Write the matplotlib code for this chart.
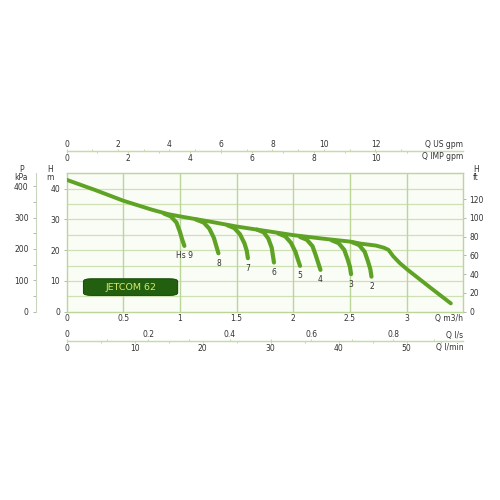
import numpy as np
import matplotlib
matplotlib.use('Agg')
import matplotlib.pyplot as plt
from matplotlib.patches import FancyBboxPatch

# main curve, Q in m3/h, H in m
q_main = [0, 0.25, 0.5, 0.75, 0.9, 1.0, 1.25, 1.5, 1.75, 2.0, 2.25, 2.5, 2.6, 2.73,
          2.8, 2.84, 2.88, 2.94, 3.01, 3.2, 3.39]
h_main = [42.9, 39.6, 36.1, 33.2, 31.7, 31.0, 29.4, 27.7, 26.3, 24.9, 23.8, 22.8, 22.1, 21.5,
          20.8, 20.1, 18.1, 15.8, 13.6, 8.1, 2.7]

# suction lift branches (Hs = 9 ... 2 m)
branch_labels = ['Hs 9', '8', '7', '6', '5', '4', '3', '2']
branch_q = [
    [0.86, 0.92, 0.97, 1.00, 1.02, 1.04],
    [1.14, 1.21, 1.26, 1.30, 1.32, 1.34],
    [1.42, 1.48, 1.53, 1.57, 1.59, 1.60],
    [1.68, 1.74, 1.78, 1.81, 1.82, 1.83],
    [1.87, 1.93, 1.98, 2.02, 2.04, 2.06],
    [2.06, 2.12, 2.17, 2.20, 2.22, 2.24],
    [2.34, 2.40, 2.45, 2.48, 2.50, 2.51],
    [2.52, 2.58, 2.63, 2.66, 2.68, 2.69],
]
branch_h = [
    [31.9, 31.0, 29.0, 26.0, 23.5, 21.4],
    [30.0, 29.0, 27.0, 24.0, 21.5, 19.0],
    [28.1, 27.2, 25.2, 22.2, 19.8, 17.4],
    [26.7, 25.8, 23.8, 20.8, 18.4, 16.0],
    [25.4, 24.5, 22.4, 19.4, 17.1, 14.9],
    [24.3, 23.4, 21.3, 18.2, 15.9, 13.6],
    [23.2, 22.3, 20.1, 17.0, 14.6, 12.2],
    [22.6, 21.7, 19.5, 16.3, 13.8, 11.4],
]

# ticks for the scales
q_ticks = [0, 0.5, 1, 1.5, 2, 2.5, 3]
h_ticks = [0, 10, 20, 30, 40]
kpa_ticks = [0, 100, 200, 300, 400]
ft_ticks = [0, 20, 40, 60, 80, 100, 120]
usgpm_ticks = [0, 2, 4, 6, 8, 10, 12]
impgpm_ticks = [0, 2, 4, 6, 8, 10]
ls_ticks = [0, 0.2, 0.4, 0.6, 0.8]
lmin_ticks = [0, 10, 20, 30, 40, 50]

curve_col = '#5fa325'
grid_col = '#cfe1b4'
vgrid_col = '#bcd69a'
txt_col = '#333333'
fs = 5.5

fig = plt.figure(figsize=(5, 5), dpi=100)
ax = fig.add_axes([0.133, 0.3766, 0.7936, 0.2768])
ax.set_facecolor('#fafcf6')
ax.set_xlim(0, 3.5)
ax.set_ylim(0, 45)

for y in np.arange(5, 45, 5):
    ax.axhline(y, color=grid_col, lw=0.9, zorder=1)
for x in q_ticks[1:]:
    ax.axvline(x, color=vgrid_col, lw=1.0, zorder=1)
for s in ax.spines.values():
    s.set_color(vgrid_col)
    s.set_linewidth(1.0)

ax.plot(q_main, h_main, color=curve_col, lw=2.8, solid_capstyle='round',
        solid_joinstyle='round', zorder=3)
for lab, qq, hh in zip(branch_labels, branch_q, branch_h):
    ax.plot(qq, hh, color=curve_col, lw=3.0, solid_capstyle='round',
            solid_joinstyle='round', zorder=3)
    ax.annotate(lab, (qq[-1], hh[-1]), xytext=(0, -4), textcoords='offset points',
                ha='center', va='top', fontsize=fs, color=txt_col)

# model box
box = FancyBboxPatch((0.15, 5.3), 0.83, 5.4, boxstyle='round,pad=0,rounding_size=0.07',
                     mutation_aspect=12, facecolor='#22600f', edgecolor='#1a4f0a',
                     lw=0.8, zorder=4)
ax.add_patch(box)
ax.text(0.565, 8.0, 'JETCOM 62', ha='center', va='center', fontsize=6.8,
        color='#d9e86a', zorder=5)

# main axes ticks
ax.set_xticks(q_ticks)
ax.set_xticklabels([f'{v:g}' for v in q_ticks])
ax.set_yticks(h_ticks)
ax.tick_params(axis='x', length=0, pad=2, labelsize=fs, labelcolor=txt_col)
ax.tick_params(axis='y', length=2.5, width=0.6, color='#aaaaaa', pad=2,
               labelsize=fs, labelcolor=txt_col)
ax.text(3.5, -2.05, 'Q m3/h', ha='right', va='center', fontsize=fs, color=txt_col)
ax.text(-0.145, 45.0, 'H\nm', ha='center', va='center', fontsize=fs, color=txt_col,
        linespacing=0.85)

# pressure scale at the left
kpa = ax.secondary_yaxis(-0.078, functions=(lambda h: h * 9.81, lambda p: p / 9.81))
kpa.set_yticks(kpa_ticks)
kpa.set_yticks([50, 150, 250, 350], minor=True)
kpa.spines['left'].set_color('#c9d6bd')
kpa.tick_params(which='both', length=2, width=0.6, color='#aaaaaa', pad=3,
                labelsize=fs, labelcolor=txt_col)
ax.text(-0.40, 45.0, 'P\nkPa', ha='center', va='center', fontsize=fs, color=txt_col,
        linespacing=0.85)

# feet scale at the right
ft = ax.secondary_yaxis('right', functions=(lambda h: h * 3.2808, lambda f: f / 3.2808))
ft.set_yticks(ft_ticks)
ft.spines['right'].set_visible(False)
ft.tick_params(length=2.5, width=0.6, color='#aaaaaa', pad=2,
               labelsize=fs, labelcolor=txt_col)
ax.text(3.61, 45.0, 'H\nft', ha='center', va='center', fontsize=fs, color=txt_col,
        linespacing=0.85)

# flow scales above
top_loc = 1.158
us = ax.secondary_xaxis(top_loc, functions=(lambda q: q * 4.403, lambda g: g / 4.403))
us.set_xticks(usgpm_ticks)
us.set_xticks(np.arange(1, 15, 2), minor=True)
us.set_alignment('top')
imp = ax.secondary_xaxis(top_loc, functions=(lambda q: q * 3.666, lambda g: g / 3.666))
imp.set_xticks(impgpm_ticks)
imp.set_xticks(np.arange(1, 13, 2), minor=True)
imp.set_alignment('bottom')

# flow scales below
bot_loc = -0.214
ls = ax.secondary_xaxis(bot_loc, functions=(lambda q: q / 3.6, lambda v: v * 3.6))
ls.set_xticks(ls_ticks)
ls.set_xticklabels([f'{v:g}' for v in ls_ticks])
ls.set_xticks([0.1, 0.3, 0.5, 0.7, 0.9], minor=True)
ls.set_alignment('top')
lmin = ax.secondary_xaxis(bot_loc, functions=(lambda q: q * 16.667, lambda v: v / 16.667))
lmin.set_xticks(lmin_ticks)
lmin.set_xticks([5, 15, 25, 35, 45, 55], minor=True)
lmin.set_alignment('bottom')

for sa in (us, imp, ls, lmin):
    for s in sa.spines.values():
        s.set_color('#c6dca6')
        s.set_linewidth(0.9)
    sa.tick_params(which='both', length=1.2, width=0.6, color='#b9d39a', pad=0.8,
                   labelsize=fs, labelcolor=txt_col)

ax.text(3.5, 54.3, 'Q US gpm', ha='right', va='center', fontsize=fs, color=txt_col)
ax.text(3.5, 50.4, 'Q IMP gpm', ha='right', va='center', fontsize=fs, color=txt_col)
ax.text(3.5, -7.6, 'Q l/s', ha='right', va='center', fontsize=fs, color=txt_col)
ax.text(3.5, -11.8, 'Q l/min', ha='right', va='center', fontsize=fs, color=txt_col)

fig.savefig('out.png', dpi=100, facecolor='white')
